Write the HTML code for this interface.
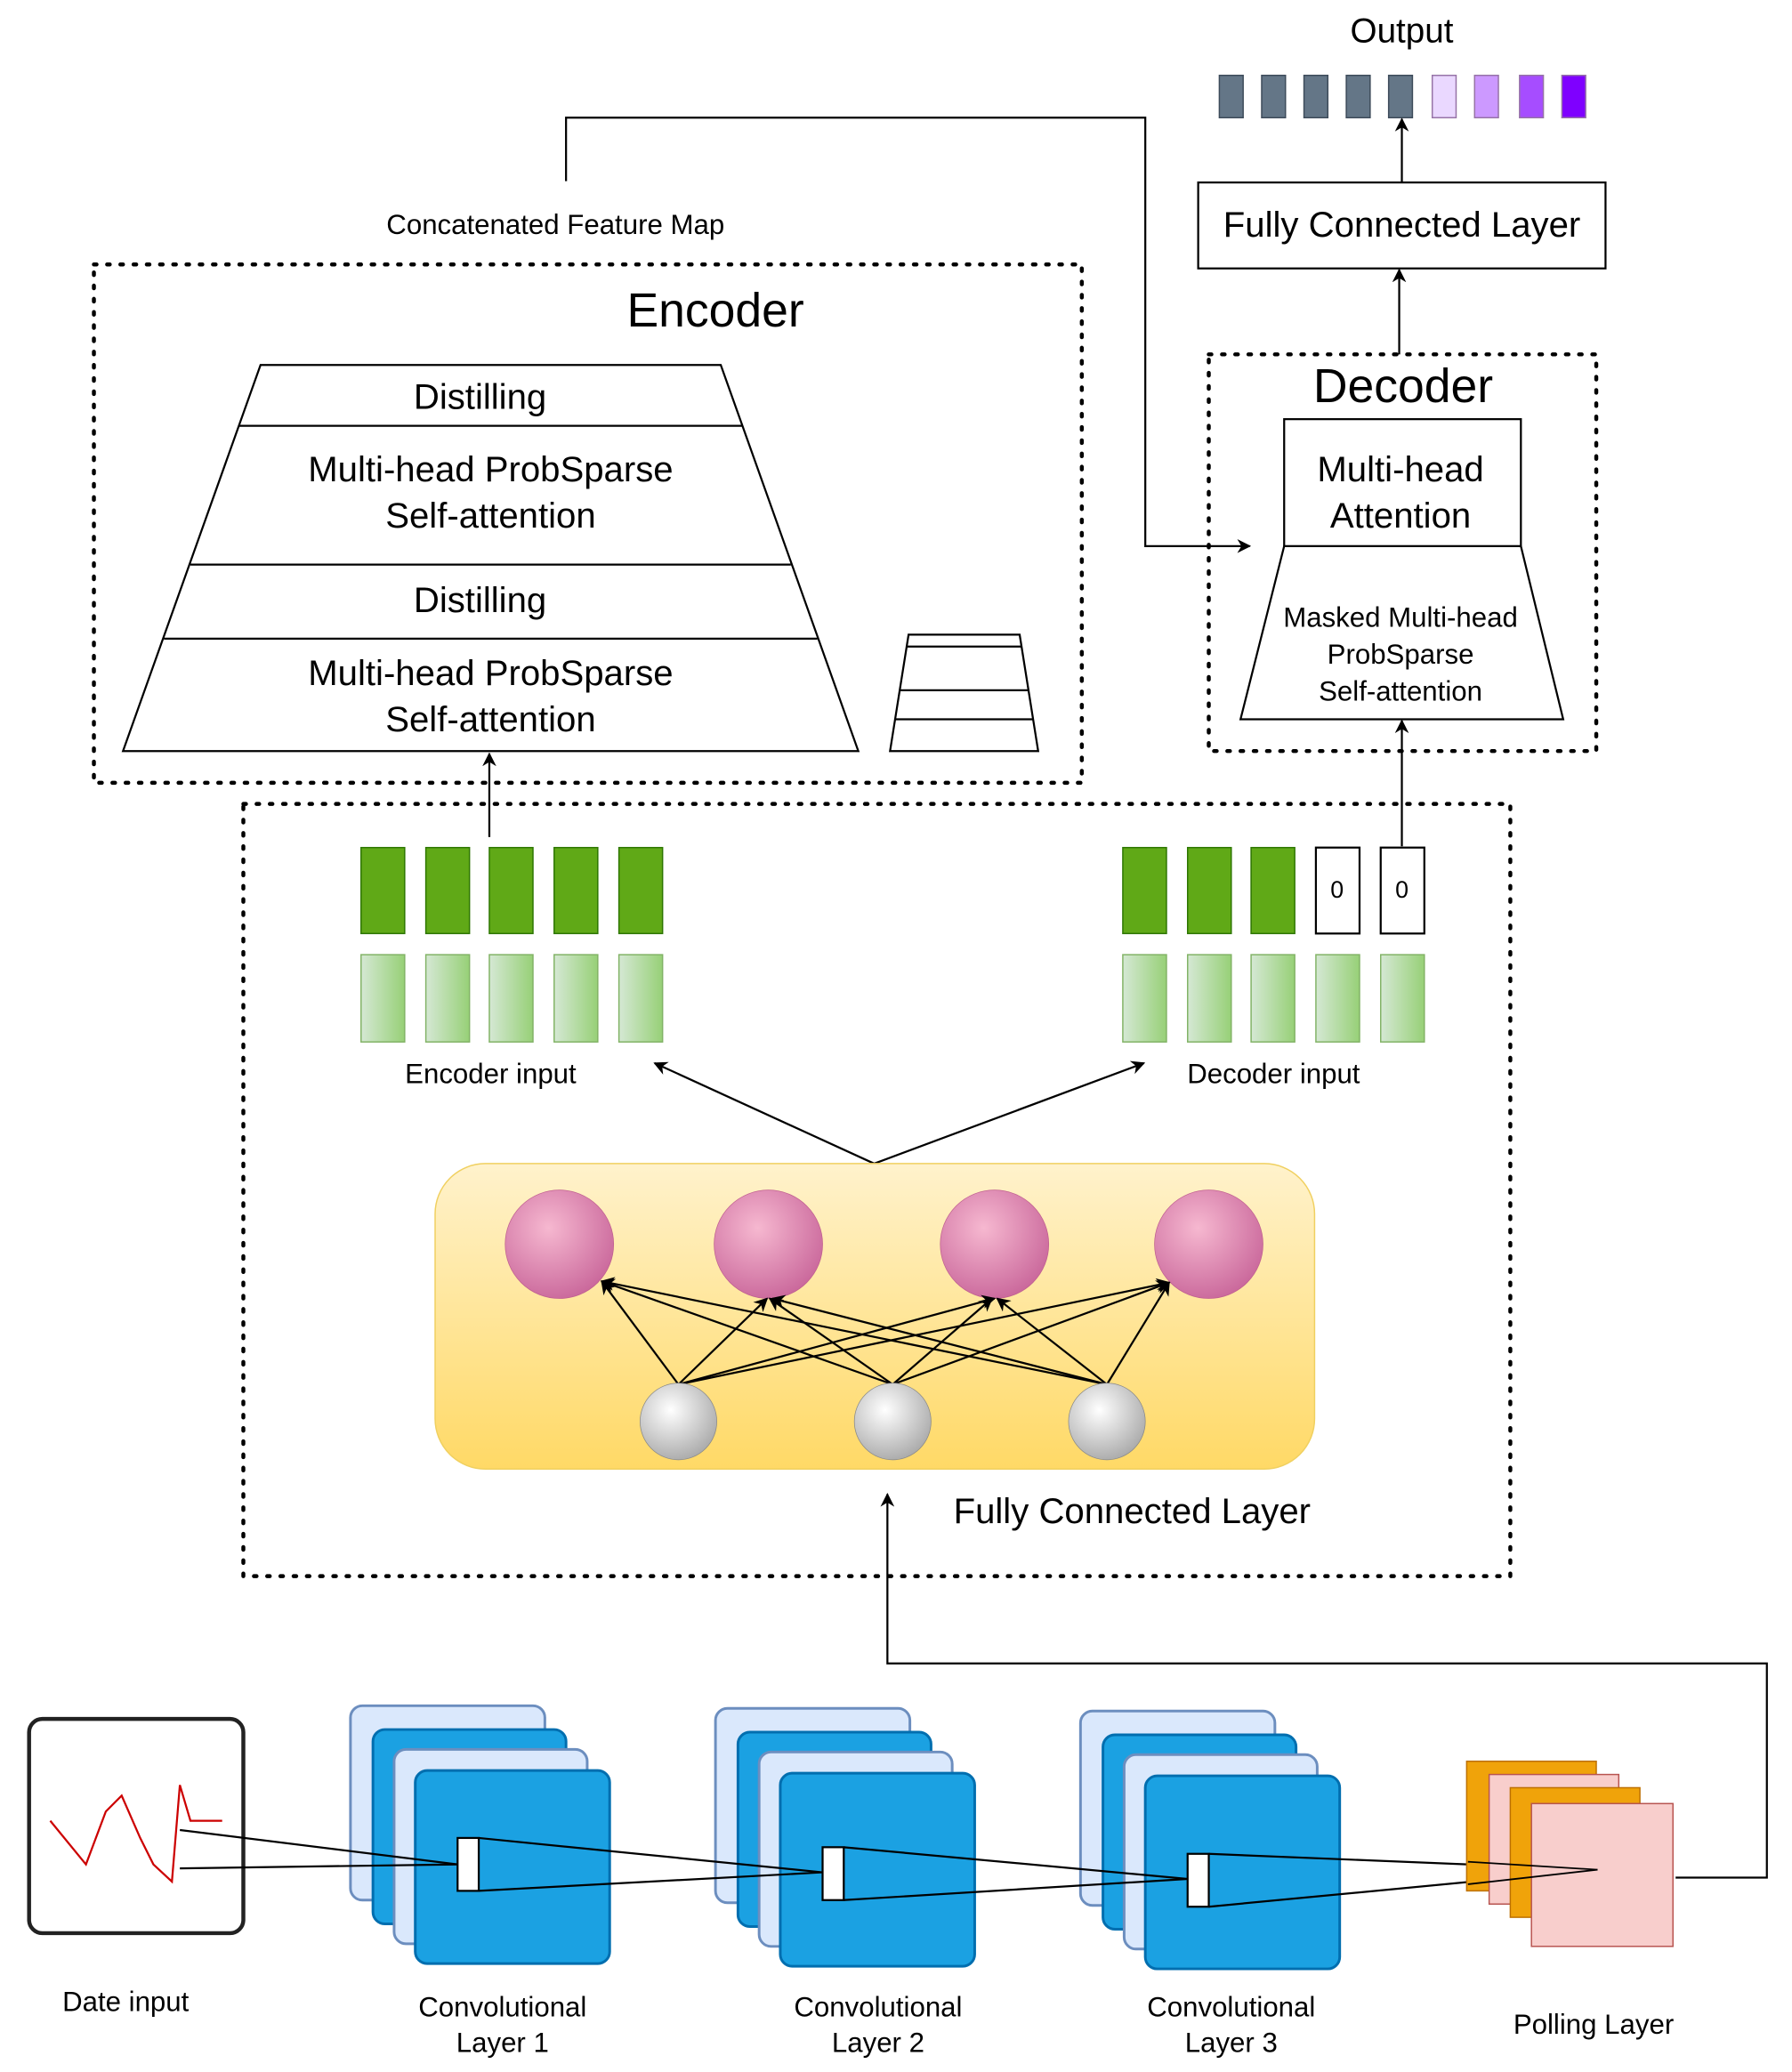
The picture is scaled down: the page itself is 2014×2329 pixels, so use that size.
<!DOCTYPE html>
<html><head><meta charset="utf-8"><style>
html,body{margin:0;padding:0;background:#fff}
svg{display:block}
text{font-family:"Liberation Sans",sans-serif;fill:#000}
</style></head><body>
<svg width="2014" height="2329" viewBox="0 0 1355 1567" preserveAspectRatio="none" xmlns="http://www.w3.org/2000/svg">
<defs>
<marker id="a" viewBox="0 0 10 10" refX="9" refY="5" markerWidth="7" markerHeight="7" orient="auto"><path d="M0,0L10,5L0,10L3,5z" fill="#000"/></marker>
<linearGradient id="lg" x1="0" y1="0" x2="1" y2="0"><stop offset="0" stop-color="#d5e8d4"/><stop offset="1" stop-color="#97d077"/></linearGradient>
<linearGradient id="yg" x1="0" y1="0" x2="0" y2="1"><stop offset="0" stop-color="#fff2cc"/><stop offset="1" stop-color="#ffd966"/></linearGradient>
<radialGradient id="pg" cx="0.4" cy="0.35" r="0.7"><stop offset="0" stop-color="#f6b8d0"/><stop offset="1" stop-color="#c9669a"/></radialGradient>
<radialGradient id="gg" cx="0.4" cy="0.35" r="0.7"><stop offset="0" stop-color="#ffffff"/><stop offset="1" stop-color="#a8a8a8"/></radialGradient>
</defs>

<text x="1060" y="32" font-size="26" text-anchor="middle">Output</text>
<g stroke="#3d4b5a" stroke-width="1">
<rect x="922" y="57" width="18" height="32" fill="#647687"/>
<rect x="954" y="57" width="18" height="32" fill="#647687"/>
<rect x="986" y="57" width="18" height="32" fill="#647687"/>
<rect x="1018" y="57" width="18" height="32" fill="#647687"/>
<rect x="1050" y="57" width="18" height="32" fill="#647687"/>
</g>
<g stroke="#9673a6" stroke-width="1">
<rect x="1083" y="57" width="18" height="32" fill="#ead8ff"/>
<rect x="1115" y="57" width="18" height="32" fill="#cc99ff"/>
<rect x="1149" y="57" width="18" height="32" fill="#a64dff"/>
<rect x="1181" y="57" width="18" height="32" fill="#7f00ff"/>
</g>
<rect x="906" y="138" width="308" height="65" fill="#fff" stroke="#000" stroke-width="1.5"/>
<text x="1060" y="179" font-size="27" text-anchor="middle">Fully Connected Layer</text>
<line x1="1060" y1="138" x2="1060" y2="90" stroke="#000" stroke-width="1.5" marker-end="url(#a)"/>
<line x1="1058" y1="268" x2="1058" y2="204" stroke="#000" stroke-width="1.5" marker-end="url(#a)"/>

<text x="420" y="177" font-size="21" text-anchor="middle">Concatenated Feature Map</text>
<polyline points="428,137 428,89 866,89 866,413 945,413" fill="none" stroke="#000" stroke-width="1.5" marker-end="url(#a)"/>

<rect x="71" y="200" width="747" height="392" fill="none" stroke="#000" stroke-width="3" stroke-dasharray="2,8" stroke-linecap="round"/>
<text x="541" y="247" font-size="36" text-anchor="middle">Encoder</text>
<polygon points="197,276 545,276 649,568 93,568" fill="#fff" stroke="#000" stroke-width="1.5"/>
<line x1="181" y1="322" x2="561" y2="322" stroke="#000" stroke-width="1.5"/>
<line x1="144" y1="427" x2="598" y2="427" stroke="#000" stroke-width="1.5"/>
<line x1="124" y1="483" x2="618" y2="483" stroke="#000" stroke-width="1.5"/>
<text x="363" y="309" font-size="27" text-anchor="middle">Distilling</text>
<text x="371" y="364" font-size="27" text-anchor="middle">Multi-head ProbSparse</text>
<text x="371" y="399" font-size="27" text-anchor="middle">Self-attention</text>
<text x="363" y="463" font-size="27" text-anchor="middle">Distilling</text>
<text x="371" y="518" font-size="27" text-anchor="middle">Multi-head ProbSparse</text>
<text x="371" y="553" font-size="27" text-anchor="middle">Self-attention</text>
<polygon points="687,480 771,480 785,568 673,568" fill="#fff" stroke="#000" stroke-width="1.5"/>
<line x1="685" y1="489" x2="773" y2="489" stroke="#000" stroke-width="1.5"/>
<line x1="680" y1="522" x2="778" y2="522" stroke="#000" stroke-width="1.5"/>
<line x1="677" y1="544" x2="781" y2="544" stroke="#000" stroke-width="1.5"/>

<rect x="914" y="268" width="293" height="300" fill="none" stroke="#000" stroke-width="3" stroke-dasharray="2,8" stroke-linecap="round"/>
<text x="1061" y="304" font-size="36" text-anchor="middle">Decoder</text>
<polygon points="971,413 1150,413 1182,544 938,544" fill="#fff" stroke="#000" stroke-width="1.5"/>
<rect x="971" y="317" width="179" height="96" fill="#fff" stroke="#000" stroke-width="1.5"/>
<text x="1059" y="364" font-size="27" text-anchor="middle">Multi-head</text>
<text x="1059" y="399" font-size="27" text-anchor="middle">Attention</text>
<text x="1059" y="474" font-size="21" text-anchor="middle">Masked Multi-head</text>
<text x="1059" y="502" font-size="21" text-anchor="middle">ProbSparse</text>
<text x="1059" y="530" font-size="21" text-anchor="middle">Self-attention</text>
<line x1="1060" y1="640" x2="1060" y2="545" stroke="#000" stroke-width="1.5" marker-end="url(#a)"/>

<rect x="184" y="608" width="958" height="584" fill="none" stroke="#000" stroke-width="3" stroke-dasharray="2,8" stroke-linecap="round"/>
<g stroke="#2d7600" stroke-width="1" fill="#60a917">
<rect x="273" y="641" width="33" height="65"/><rect x="322" y="641" width="33" height="65"/><rect x="370" y="641" width="33" height="65"/><rect x="419" y="641" width="33" height="65"/><rect x="468" y="641" width="33" height="65"/>
<rect x="849" y="641" width="33" height="65"/><rect x="898" y="641" width="33" height="65"/><rect x="946" y="641" width="33" height="65"/>
</g>
<rect x="995" y="641" width="33" height="65" fill="#fff" stroke="#000" stroke-width="1.5"/>
<rect x="1044" y="641" width="33" height="65" fill="#fff" stroke="#000" stroke-width="1.5"/>
<text x="1011" y="679" font-size="18" text-anchor="middle">0</text>
<text x="1060" y="679" font-size="18" text-anchor="middle">0</text>
<g stroke="#82b366" stroke-width="1" fill="url(#lg)">
<rect x="273" y="722" width="33" height="66"/><rect x="322" y="722" width="33" height="66"/><rect x="370" y="722" width="33" height="66"/><rect x="419" y="722" width="33" height="66"/><rect x="468" y="722" width="33" height="66"/>
<rect x="849" y="722" width="33" height="66"/><rect x="898" y="722" width="33" height="66"/><rect x="946" y="722" width="33" height="66"/><rect x="995" y="722" width="33" height="66"/><rect x="1044" y="722" width="33" height="66"/>
</g>
<line x1="370" y1="633" x2="370" y2="570" stroke="#000" stroke-width="1.5" marker-end="url(#a)"/>
<text x="371" y="819" font-size="21" text-anchor="middle">Encoder input</text>
<text x="963" y="819" font-size="21" text-anchor="middle">Decoder input</text>
<line x1="661" y1="880" x2="495" y2="804" stroke="#000" stroke-width="1.5" marker-end="url(#a)"/>
<line x1="661" y1="880" x2="865" y2="804" stroke="#000" stroke-width="1.5" marker-end="url(#a)"/>

<rect x="329" y="880" width="665" height="231" rx="38" fill="url(#yg)" stroke="#f0d060" stroke-width="1"/>
<g fill="url(#pg)" stroke="#c06090" stroke-width="0.5">
<circle cx="423" cy="941" r="41"/><circle cx="581" cy="941" r="41"/><circle cx="752" cy="941" r="41"/><circle cx="914" cy="941" r="41"/>
</g>
<g stroke="#000" stroke-width="1.5" marker-end="url(#a)">
<line x1="513" y1="1047" x2="455" y2="969"/><line x1="513" y1="1047" x2="580" y2="982"/><line x1="513" y1="1047" x2="752" y2="982"/><line x1="513" y1="1047" x2="884" y2="970"/>
<line x1="675" y1="1047" x2="455" y2="969"/><line x1="675" y1="1047" x2="582" y2="982"/><line x1="675" y1="1047" x2="750" y2="982"/><line x1="675" y1="1047" x2="884" y2="970"/>
<line x1="837" y1="1047" x2="455" y2="969"/><line x1="837" y1="1047" x2="584" y2="982"/><line x1="837" y1="1047" x2="754" y2="982"/><line x1="837" y1="1047" x2="884" y2="970"/>
</g>
<g fill="url(#gg)" stroke="#888" stroke-width="0.5">
<circle cx="513" cy="1075" r="29"/><circle cx="675" cy="1075" r="29"/><circle cx="837" cy="1075" r="29"/>
</g>
<text x="856" y="1152" font-size="27" text-anchor="middle">Fully Connected Layer</text>
<polyline points="1267,1420 1336,1420 1336,1258 671,1258 671,1130" fill="none" stroke="#000" stroke-width="1.5" marker-end="url(#a)"/>

<rect x="22" y="1300" width="162" height="162" rx="10" fill="#fff" stroke="#222" stroke-width="3"/>
<polyline points="38,1377 65,1410 80,1370 92,1358 106,1390 116,1410 130,1423 136,1350 144,1377 168,1377" fill="none" stroke="#c00" stroke-width="1.5"/>
<g stroke-width="2">
<g id="cl">
<rect x="265" y="1290" width="147" height="147" rx="9" fill="#dae8fc" stroke="#6c8ebf"/>
<rect x="282" y="1308" width="146" height="147" rx="9" fill="#1ba1e2" stroke="#006eaf"/>
<rect x="298" y="1323" width="146" height="147" rx="9" fill="#dae8fc" stroke="#6c8ebf"/>
<rect x="314" y="1339" width="147" height="146" rx="9" fill="#1ba1e2" stroke="#006eaf"/>
</g>
<use href="#cl" x="276" y="2"/>
<use href="#cl" x="552" y="4"/>
</g>
<g stroke="#000" stroke-width="1.5" fill="none">
<line x1="136" y1="1384" x2="346" y2="1410"/><line x1="136" y1="1413" x2="346" y2="1410"/>
<line x1="362" y1="1390" x2="622" y2="1416"/><line x1="362" y1="1430" x2="622" y2="1416"/>
<line x1="638" y1="1397" x2="898" y2="1421"/><line x1="638" y1="1437" x2="898" y2="1421"/>
<line x1="914" y1="1402" x2="1208" y2="1414"/><line x1="914" y1="1442" x2="1208" y2="1414"/>
</g>
<g fill="#fff" stroke="#000" stroke-width="1.5">
<rect x="346" y="1390" width="16" height="40"/><rect x="622" y="1397" width="16" height="40"/><rect x="898" y="1402" width="16" height="40"/>
</g>
<rect x="1109" y="1332" width="98" height="98" fill="#f0a30a" stroke="#bd7000"/>
<rect x="1126" y="1342" width="98" height="98" fill="#f8cecc" stroke="#b85450"/>
<rect x="1142" y="1352" width="98" height="98" fill="#f0a30a" stroke="#bd7000"/>
<rect x="1158" y="1364" width="107" height="108" fill="#f8cecc" stroke="#b85450"/>
<g stroke="#000" stroke-width="1.2"><line x1="1110" y1="1408" x2="1208" y2="1414"/><line x1="1110" y1="1425" x2="1208" y2="1414"/></g>

<text x="95" y="1521" font-size="21" text-anchor="middle">Date input</text>
<text x="380" y="1525" font-size="21" text-anchor="middle">Convolutional</text>
<text x="380" y="1552" font-size="21" text-anchor="middle">Layer 1</text>
<text x="664" y="1525" font-size="21" text-anchor="middle">Convolutional</text>
<text x="664" y="1552" font-size="21" text-anchor="middle">Layer 2</text>
<text x="931" y="1525" font-size="21" text-anchor="middle">Convolutional</text>
<text x="931" y="1552" font-size="21" text-anchor="middle">Layer 3</text>
<text x="1205" y="1538" font-size="21" text-anchor="middle">Polling Layer</text>
</svg>
</body></html>
